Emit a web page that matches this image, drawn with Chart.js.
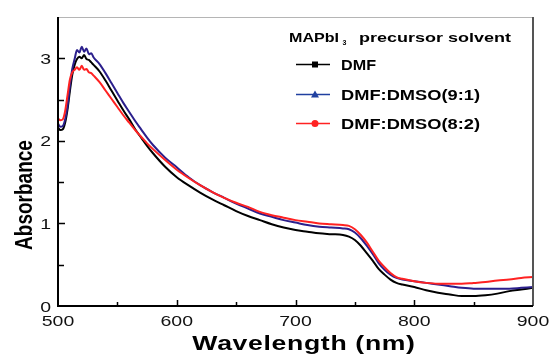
<!DOCTYPE html>
<html>
<head>
<meta charset="utf-8">
<title>MAPbI3 absorbance</title>
<script src="https://cdn.jsdelivr.net/npm/chart.js@4.4.1/dist/chart.umd.min.js"></script>
<style>
  body { margin: 0; background: #fff; }
  #wrap { width: 552px; height: 354px; }
</style>
</head>
<body>
<div id="wrap"><canvas id="absChart" width="552" height="354"></canvas></div>
<script>
// wavelength (nm) and absorbance
const wavelengths = [500, 502, 504, 506, 508, 510, 512, 514, 516, 518, 520, 522, 524, 526, 528, 530,
  535, 540, 545, 550, 555, 560, 565, 570, 575, 580, 590, 600, 610, 620, 630, 640, 650, 660, 670, 680,
  690, 700, 710, 720, 730, 740, 745, 750, 755, 760, 765, 770, 775, 780, 785, 790, 800, 810, 820, 830,
  840, 850, 860, 870, 880, 890, 900];

const dmf = [2.16, 2.13, 2.14, 2.22, 2.38, 2.60, 2.80, 2.92, 2.99, 3.02, 3.00, 3.04, 2.99, 2.98, 2.95, 2.92,
  2.84, 2.73, 2.61, 2.49, 2.37, 2.26, 2.14, 2.04, 1.94, 1.85, 1.69, 1.56, 1.46, 1.37, 1.29, 1.22, 1.15, 1.09, 1.04, 0.99,
  0.95, 0.92, 0.90, 0.88, 0.87, 0.86, 0.84, 0.80, 0.73, 0.64, 0.55, 0.45, 0.38, 0.32, 0.28, 0.26, 0.23, 0.19, 0.16, 0.14,
  0.12, 0.12, 0.13, 0.15, 0.18, 0.20, 0.22];

const dmso91 = [2.21, 2.17, 2.18, 2.26, 2.42, 2.66, 2.87, 2.99, 3.10, 3.07, 3.14, 3.08, 3.12, 3.05, 3.06, 3.01,
  2.93, 2.82, 2.70, 2.58, 2.46, 2.35, 2.24, 2.14, 2.04, 1.95, 1.80, 1.68, 1.56, 1.46, 1.38, 1.31, 1.24, 1.18, 1.12, 1.08,
  1.04, 1.01, 0.98, 0.96, 0.95, 0.94, 0.93, 0.89, 0.82, 0.73, 0.63, 0.52, 0.44, 0.38, 0.34, 0.32, 0.30, 0.28, 0.26, 0.24,
  0.22, 0.21, 0.21, 0.21, 0.21, 0.22, 0.23];

const dmso82 = [2.27, 2.25, 2.26, 2.36, 2.55, 2.74, 2.83, 2.86, 2.89, 2.86, 2.91, 2.86, 2.87, 2.83, 2.82, 2.79,
  2.71, 2.61, 2.51, 2.41, 2.31, 2.22, 2.13, 2.05, 1.97, 1.90, 1.77, 1.65, 1.55, 1.46, 1.38, 1.31, 1.25, 1.20, 1.14, 1.10,
  1.07, 1.04, 1.02, 1.00, 0.99, 0.98, 0.97, 0.93, 0.86, 0.77, 0.66, 0.55, 0.47, 0.40, 0.35, 0.33, 0.30, 0.28, 0.27, 0.27,
  0.27, 0.28, 0.29, 0.31, 0.32, 0.34, 0.35];

const seriesNames = ['DMF', 'DMF:DMSO(9:1)', 'DMF:DMSO(8:2)'];
const seriesColors = ['#000000', '#2b1f8c', '#ff2222'];
const xTickLabels = [500, 600, 700, 800, 900];
const yTickLabels = [0, 1, 2, 3];

const FONT = '"Liberation Sans", Arial, Helvetica, sans-serif';

// text drawn with a horizontal stretch, the figure's lettering is wide
function stretchText(ctx, text, x, y, sx, align) {
  ctx.save();
  ctx.translate(x, y);
  ctx.scale(sx, 1);
  ctx.textAlign = align;
  ctx.fillText(text, 0, 0);
  ctx.restore();
}

function fitText(ctx, text, x, y, w) {
  const natural = ctx.measureText(text).width;
  stretchText(ctx, text, x, y, w / natural, 'left');
}

const toPoints = (vals) => wavelengths.map((w, i) => ({ x: w, y: vals[i] }));

const framePlugin = {
  id: 'frameAndLabels',
  afterDraw: (chart) => {
    const { ctx, chartArea: a, scales } = chart;
    const x = scales.x, y = scales.y;
    ctx.save();

    // top and right border
    ctx.strokeStyle = '#b5b5b5';
    ctx.lineWidth = 1;
    ctx.beginPath();
    ctx.moveTo(a.left, a.top + 0.5);
    ctx.lineTo(a.right, a.top + 0.5);
    ctx.stroke();
    ctx.strokeStyle = '#555';
    ctx.lineWidth = 2;
    ctx.beginPath();
    ctx.moveTo(a.right, a.top);
    ctx.lineTo(a.right, a.bottom);
    ctx.stroke();

    // left and bottom axis
    ctx.strokeStyle = '#000';
    ctx.lineWidth = 2;
    ctx.beginPath();
    ctx.moveTo(a.left, a.top);
    ctx.lineTo(a.left, a.bottom);
    ctx.lineTo(a.right, a.bottom);
    ctx.stroke();

    // inward ticks
    ctx.lineWidth = 1.5;
    ctx.beginPath();
    x.ticks.forEach((t) => {
      if (t.value <= 500 || t.value >= 900) return;
      const px = Math.round(x.getPixelForValue(t.value)) + 0.5;
      const len = t.value % 100 === 0 ? 6 : 4;
      ctx.moveTo(px, a.bottom);
      ctx.lineTo(px, a.bottom - len);
    });
    y.ticks.forEach((t) => {
      if (t.value <= 0 || t.value >= 3.5) return;
      const py = Math.round(y.getPixelForValue(t.value)) + 0.5;
      const len = t.value % 1 === 0 ? 7 : 6;
      ctx.moveTo(a.left, py);
      ctx.lineTo(a.left + len, py);
    });
    ctx.stroke();

    // tick labels
    ctx.fillStyle = '#111';
    ctx.textBaseline = 'alphabetic';
    ctx.font = '15px ' + FONT;
    xTickLabels.forEach((v) => {
      stretchText(ctx, String(v), x.getPixelForValue(v), 326, 1.3, 'center');
    });
    yTickLabels.forEach((v) => {
      stretchText(ctx, String(v), 51, y.getPixelForValue(v) + 5.5, 1.3, 'right');
    });

    // axis titles
    ctx.fillStyle = '#000';
    ctx.font = 'bold 19px ' + FONT;
    ctx.save();
    ctx.translate(32, 195);
    ctx.scale(1.3, 1);
    ctx.rotate(-Math.PI / 2);
    ctx.textAlign = 'center';
    ctx.fillText('Absorbance', 0, 0);
    ctx.restore();

    ctx.font = 'bold 20px ' + FONT;
    ctx.letterSpacing = '0.5px';
    stretchText(ctx, 'Wavelength (nm)', 304, 350, 1.33, 'center');
    ctx.letterSpacing = '0px';

    // legend
    ctx.font = 'bold 13px ' + FONT;
    fitText(ctx, 'MAPbI', 289, 42, 50);
    ctx.font = 'bold 7px ' + FONT;
    ctx.fillText('3', 342.5, 45);
    ctx.font = 'bold 13px ' + FONT;
    fitText(ctx, 'precursor solvent', 359, 42, 152);

    const rows = [64.5, 94.5, 123.5];
    const widths = [35, 139, 139];
    seriesNames.forEach((name, i) => {
      const ry = rows[i];
      const col = i === 1 ? '#2040a0' : seriesColors[i];
      ctx.strokeStyle = col;
      ctx.fillStyle = col;
      ctx.lineWidth = 1.6;
      ctx.beginPath();
      ctx.moveTo(296, ry);
      ctx.lineTo(330, ry);
      ctx.stroke();
      ctx.beginPath();
      if (i === 0) {
        ctx.rect(312, ry - 3, 6, 6);
      } else if (i === 1) {
        ctx.moveTo(315, ry - 4);
        ctx.lineTo(319, ry + 3);
        ctx.lineTo(311, ry + 3);
        ctx.closePath();
      } else {
        ctx.arc(315, ry, 3.5, 0, Math.PI * 2);
      }
      ctx.fill();
      ctx.fillStyle = '#000';
      ctx.font = 'bold 14px ' + FONT;
      fitText(ctx, name, 341, ry + 5, widths[i]);
    });

    ctx.restore();
  },
};

const datasets = seriesNames.map((name, i) => ({
  label: name,
  data: toPoints([dmf, dmso91, dmso82][i]),
  borderColor: seriesColors[i],
  backgroundColor: seriesColors[i],
  borderWidth: 2,
  pointRadius: 0,
  cubicInterpolationMode: 'monotone',
  order: 2 - i,
}));

new Chart(document.getElementById('absChart'), {
  type: 'line',
  data: { datasets: datasets },
  options: {
    responsive: false,
    animation: false,
    events: [],
    layout: { padding: { top: 17, right: 19, left: 0, bottom: 0 } },
    plugins: { legend: { display: false }, tooltip: { enabled: false } },
    scales: {
      x: {
        type: 'linear',
        min: 500,
        max: 900,
        ticks: { stepSize: 50, display: false },
        grid: { display: false },
        border: { display: false },
        afterFit: (s) => { s.height = 48; },
      },
      y: {
        min: 0,
        max: 3.5,
        ticks: { stepSize: 0.5, display: false },
        grid: { display: false },
        border: { display: false },
        afterFit: (s) => { s.width = 58; },
      },
    },
  },
  plugins: [framePlugin],
});
</script>
</body>
</html>
